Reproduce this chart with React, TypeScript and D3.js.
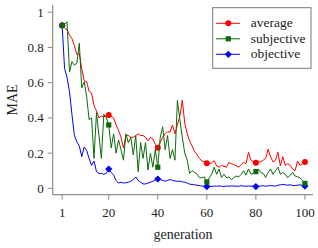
import React from "react";
import * as d3 from "d3";

const generations: number[] = Array.from({ length: 100 }, (_, i) => i + 1);

const averageMAE: number[] = [
  0.925, 0.91, 0.9, 0.87, 0.85, 0.81, 0.76, 0.765, 0.68, 0.61,
  0.605, 0.55, 0.54, 0.47, 0.44, 0.4, 0.41, 0.405, 0.415, 0.416,
  0.41, 0.4, 0.36, 0.33, 0.29, 0.23, 0.3, 0.3, 0.29, 0.29,
  0.3, 0.31, 0.3, 0.3, 0.29, 0.27, 0.29, 0.28, 0.25, 0.23,
  0.26, 0.29, 0.31, 0.32, 0.32, 0.36, 0.31, 0.36, 0.41, 0.5,
  0.37, 0.31, 0.27, 0.24, 0.21, 0.19, 0.17, 0.155, 0.15, 0.142,
  0.14, 0.145, 0.157, 0.128, 0.12, 0.13, 0.125, 0.12, 0.148, 0.14,
  0.135, 0.128, 0.12, 0.135, 0.148, 0.14, 0.205, 0.16, 0.15, 0.145,
  0.15, 0.15, 0.16, 0.17, 0.223, 0.18, 0.15, 0.16, 0.205, 0.128,
  0.18, 0.13, 0.14, 0.13, 0.11, 0.1, 0.155, 0.13, 0.14, 0.15,
];

const subjectiveMAE: number[] = [
  0.925, 0.93, 0.946, 0.66, 0.72, 0.7, 0.71, 0.824, 0.57, 0.605,
  0.52, 0.39, 0.4, 0.17, 0.43, 0.3, 0.17, 0.42, 0.4, 0.36,
  0.23, 0.31, 0.2, 0.275, 0.22, 0.16, 0.31, 0.26, 0.29, 0.19,
  0.3, 0.095, 0.26, 0.17, 0.26, 0.104, 0.2, 0.12, 0.22, 0.12,
  0.29, 0.35, 0.22, 0.3, 0.17, 0.22, 0.16, 0.5, 0.39, 0.29,
  0.2, 0.16, 0.085, 0.1, 0.09, 0.081, 0.06, 0.06, 0.065, 0.036,
  0.06, 0.08, 0.12, 0.08, 0.11, 0.062, 0.08, 0.06, 0.065, 0.05,
  0.06, 0.07, 0.065, 0.08, 0.1, 0.075, 0.11, 0.08, 0.085, 0.095,
  0.11, 0.09, 0.085, 0.062, 0.09, 0.11, 0.08, 0.1, 0.12, 0.08,
  0.09, 0.08, 0.06, 0.075, 0.09, 0.07, 0.065, 0.06, 0.045, 0.028,
];

const objectiveMAE: number[] = [
  0.925, 0.68, 0.63, 0.55, 0.42, 0.3, 0.265, 0.24, 0.18, 0.235,
  0.215, 0.17, 0.13, 0.155, 0.095, 0.085, 0.085, 0.08, 0.085, 0.11,
  0.09, 0.075, 0.045, 0.03, 0.035, 0.03, 0.032, 0.035, 0.04, 0.05,
  0.065, 0.045, 0.035, 0.025, 0.025, 0.03, 0.035, 0.04, 0.048, 0.053,
  0.05, 0.045, 0.041, 0.045, 0.05, 0.045, 0.042, 0.04, 0.041, 0.037,
  0.035, 0.03, 0.024, 0.022, 0.02, 0.018, 0.015, 0.013, 0.012, 0.01,
  0.012, 0.011, 0.013, 0.012, 0.014, 0.012, 0.011, 0.013, 0.012, 0.014,
  0.013, 0.012, 0.012, 0.015, 0.013, 0.012, 0.014, 0.012, 0.013, 0.01,
  0.012, 0.013, 0.015, 0.012, 0.014, 0.016, 0.014, 0.013, 0.018, 0.02,
  0.022, 0.02, 0.018, 0.02, 0.017, 0.016, 0.018, 0.02, 0.017, 0.013,
];

const seriesNames: string[] = ["average", "subjective", "objective"];
const seriesColors: string[] = ["#ff0000", "#0b6b0b", "#0000ff"];
const xTicks: number[] = [1, 20, 40, 60, 80, 100];
const yTicks: number[] = [0, 0.2, 0.4, 0.6, 0.8, 1];
const markerGens: number[] = [1, 20, 40, 60, 80, 100];

const FONT = "Liberation Serif, Times New Roman, serif";

function Marker({ kind, x, y, color }: { kind: number; x: number; y: number; color: string }) {
  if (kind === 0) return <circle cx={x} cy={y} r={3} fill={color} />;
  if (kind === 1) return <rect x={x - 2.6} y={y - 2.6} width={5.2} height={5.2} fill={color} />;
  const s = 3.6;
  return <path d={`M${x},${y - s}L${x + s},${y}L${x},${y + s}L${x - s},${y}Z`} fill={color} />;
}

export default function App() {
  const x = d3.scaleLinear().domain([-2.85, 103.3]).range([52.7, 313]);
  const y = d3.scaleLinear().domain([-0.036, 1.041]).range([194.7, 5]);
  const data = [averageMAE, subjectiveMAE, objectiveMAE];
  const line = d3
    .line<number>()
    .x((_, i) => x(generations[i]))
    .y((d) => y(d));
  const drawOrder = [2, 0, 1];
  const [x0, x1] = x.range();
  const [yb, yt] = y.range();
  const axisColor = "#8c8c8c";
  const ts = { fontFamily: FONT };

  return (
    <svg
      width={318}
      height={248}
      style={{ position: "absolute", left: 0, top: 0, background: "#fff" }}
    >
      <rect width={318} height={248} fill="#fff" />
      <line x1={x0} x2={x0} y1={yt} y2={yb} stroke={axisColor} strokeWidth={1.2} />
      <line x1={x0} x2={x1} y1={yb} y2={yb} stroke={axisColor} strokeWidth={1.2} />
      {yTicks.map((t) => (
        <g key={"y" + t}>
          <line x1={x0 - 5} x2={x0} y1={y(t)} y2={y(t)} stroke={axisColor} strokeWidth={1} />
          <text x={x0 - 9} y={y(t)} dy="0.35em" textAnchor="end" fontSize={13} fill="#222" style={ts}>
            {String(t)}
          </text>
        </g>
      ))}
      {xTicks.map((t) => (
        <g key={"x" + t}>
          <line x1={x(t)} x2={x(t)} y1={yb} y2={yb + 5} stroke={axisColor} strokeWidth={1} />
          <text x={x(t)} y={212.5} dy="0.35em" textAnchor="middle" fontSize={13} fill="#222" style={ts}>
            {String(t)}
          </text>
        </g>
      ))}
      <text x={183} y={238.5} textAnchor="middle" fontSize={14} fill="#222" style={ts}>
        generation
      </text>
      <text
        transform={`translate(16.5,100) rotate(-90)`}
        textAnchor="middle"
        fontSize={14}
        fill="#222"
        style={ts}
      >
        MAE
      </text>
      {drawOrder.map((k) => (
        <g key={"s" + k}>
          <path d={line(data[k]) || ""} fill="none" stroke={seriesColors[k]} strokeWidth={1} strokeLinejoin="round" />
          {markerGens.map((g) => (
            <Marker key={g} kind={k} x={x(g)} y={y(data[k][g - 1])} color={seriesColors[k]} />
          ))}
        </g>
      ))}
      <rect x={212.7} y={7.7} width={98.3} height={60.6} fill="#fff" stroke="#777" strokeWidth={1} />
      {seriesNames.map((n, i) => {
        const ly = 23.3 + i * 15.5;
        return (
          <g key={n}>
            <line x1={216} x2={240} y1={ly} y2={ly} stroke={seriesColors[i]} strokeWidth={1} />
            <Marker kind={i} x={228.3} y={ly} color={seriesColors[i]} />
            <text x={250.7} y={ly} dy="0.3em" fontSize={13.5} fill="#222" style={ts}>
              {n}
            </text>
          </g>
        );
      })}
    </svg>
  );
}
